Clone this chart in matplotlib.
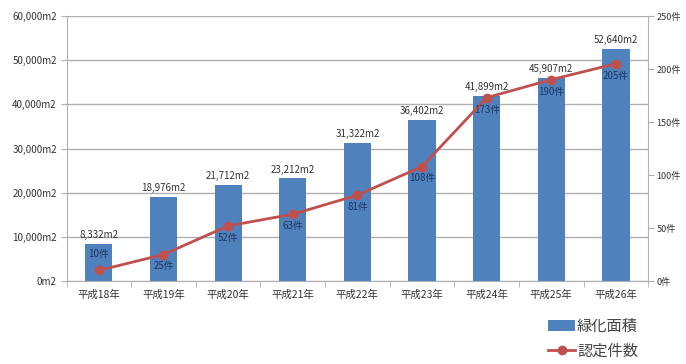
import numpy as np
import matplotlib.pyplot as plt

plt.rcParams['font.family'] = ['Noto Sans CJK JP', 'DejaVu Sans']

# データ
years = ['平成18年', '平成19年', '平成20年', '平成21年', '平成22年',
         '平成23年', '平成24年', '平成25年', '平成26年']
area = [8332, 18976, 21712, 23212, 31322, 36402, 41899, 45907, 52640]
counts = [10, 25, 52, 63, 81, 108, 173, 190, 205]

bar_color = '#4f81bd'
line_color = '#c0504d'
grid_color = '#b0b0b0'

fig = plt.figure(figsize=(6.86, 3.64), dpi=100)
ax = fig.add_axes([0.097, 0.228, 0.848, 0.728])
ax2 = ax.twinx()

x = np.arange(len(years))
ax.bar(x, area, width=0.42, color=bar_color, zorder=2, label='緑化面積')
ax.set_ylim(0, 60000)
ax.set_xlim(-0.5, len(years) - 0.5)
ax.set_yticks(range(0, 60001, 10000))
ax.set_yticklabels(['{:,}m2'.format(v) for v in range(0, 60001, 10000)], fontsize=7, color='#333333')
ax.yaxis.grid(True, color=grid_color, linewidth=1, zorder=0)
ax.set_axisbelow(True)
ax.set_xticks(x)
ax.set_xticklabels(years, fontsize=7.5, color='#333333')
ax.set_xticks(np.arange(-0.5, len(years)), minor=True)
ax.tick_params(axis='x', which='major', length=0, pad=6)
ax.tick_params(axis='x', which='minor', length=4, color=grid_color)
ax.tick_params(axis='y', length=4, color=grid_color, pad=3)
for s in ['top', 'right']:
    ax.spines[s].set_visible(False)
ax.spines['left'].set_color(grid_color)
ax.spines['bottom'].set_color(grid_color)

for i, v in enumerate(area):
    ax.text(i, v + 900, '{:,}m2'.format(v), ha='center', va='bottom', fontsize=7, color='#333333')

ax2.plot(x, counts, color=line_color, linewidth=2, marker='o', markersize=6,
         markerfacecolor=line_color, markeredgecolor=line_color, zorder=3, label='認定件数')
ax2.set_ylim(0, 250)
ax2.set_yticks(range(0, 251, 50))
ax2.set_yticklabels(['{}件'.format(v) for v in range(0, 251, 50)], fontsize=6.5, color='#333333')
ax2.tick_params(axis='y', length=4, color=grid_color, pad=2)
for s in ['top', 'left', 'bottom']:
    ax2.spines[s].set_visible(False)
ax2.spines['right'].set_color(grid_color)

for i, c in enumerate(counts):
    if i == 0:
        ax2.annotate('{}件'.format(c), (i, c), xytext=(0, 8), textcoords='offset points',
                     ha='center', va='bottom', fontsize=7, color='#1f3864')
    else:
        ax2.annotate('{}件'.format(c), (i, c), xytext=(0, -5), textcoords='offset points',
                     ha='center', va='top', fontsize=7, color='#1f3864')

h1, l1 = ax.get_legend_handles_labels()
h2, l2 = ax2.get_legend_handles_labels()
fig.legend(h1 + h2, l1 + l2, loc='lower right', bbox_to_anchor=(0.95, -0.025),
           frameon=False, fontsize=11, handlelength=1.8, handletextpad=0.1,
           labelspacing=0.5, labelcolor='#444444')

fig.savefig('out.png', dpi=100)
